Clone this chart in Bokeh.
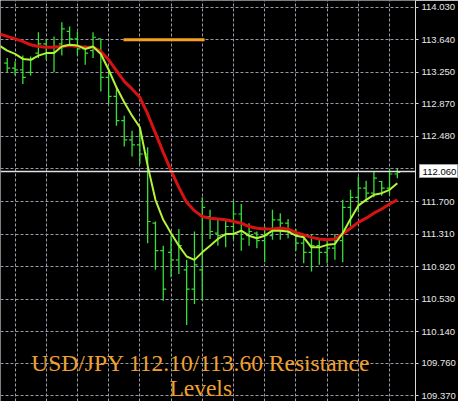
from bokeh.plotting import figure
from bokeh.models import (Range1d, LinearAxis, FixedTicker, PrintfTickFormatter,
                          Label, Span, Grid, GridBox)
from bokeh.core.properties import value
from bokeh.embed import file_html
from bokeh.resources import INLINE

# ---------------- data ----------------
bar_index = list(range(51))

opens = [113.36, 113.30, 113.28, 113.25, 113.48, 113.59, 113.48, 113.59, 113.74, 113.65,
         113.53, 113.51, 113.65, 113.19, 112.96, 112.67, 112.44, 112.38, 112.27, 111.44,
         111.11, 111.09, 111.00, 110.88, 110.65, 110.88, 111.52, 111.32, 111.29, 111.40,
         111.55, 111.29, 111.32, 111.23, 111.29, 111.48, 111.44, 111.34, 111.20, 111.09,
         111.17, 111.09, 111.14, 111.23, 111.63, 111.75, 111.86, 111.80, 111.94, 111.86,
         112.03]
highs = [113.42, 113.38, 113.45, 113.44, 113.73, 113.65, 113.68, 113.85, 113.80, 113.74,
         113.57, 113.73, 113.65, 113.27, 113.07, 112.73, 112.55, 112.58, 112.35, 111.46,
         111.17, 111.29, 111.37, 111.00, 111.34, 111.75, 111.60, 111.48, 111.49, 111.70,
         111.67, 111.44, 111.34, 111.40, 111.60, 111.56, 111.49, 111.37, 111.31, 111.31,
         111.25, 111.25, 111.31, 111.72, 111.84, 112.00, 111.95, 112.06, 111.95, 112.09,
         112.09]
lows = [113.25, 113.21, 113.11, 113.21, 113.42, 113.40, 113.25, 113.45, 113.57, 113.45,
        113.34, 113.42, 113.02, 112.87, 112.61, 112.36, 112.24, 112.15, 111.20, 110.88,
        110.51, 110.79, 110.83, 110.22, 110.47, 110.51, 111.25, 111.17, 111.15, 111.25,
        111.11, 111.17, 111.14, 110.97, 111.24, 111.24, 111.26, 111.11, 110.96, 110.86,
        110.94, 110.96, 111.00, 110.97, 111.40, 111.57, 111.69, 111.75, 111.77, 111.78,
        111.98]
closes = [113.30, 113.28, 113.19, 113.40, 113.59, 113.48, 113.56, 113.77, 113.65, 113.53,
          113.48, 113.67, 113.19, 112.96, 112.67, 112.44, 112.38, 112.27, 111.46, 111.11,
          110.65, 111.00, 111.17, 110.65, 110.94, 111.63, 111.34, 111.29, 111.40, 111.55,
          111.25, 111.34, 111.23, 111.29, 111.48, 111.44, 111.34, 111.20, 111.09, 111.17,
          111.09, 111.14, 111.23, 111.63, 111.75, 111.86, 111.80, 111.98, 111.86, 112.03,
          112.05]

ma_index = list(range(-1, 51))
ma_fast = [113.57, 113.51, 113.47, 113.41, 113.40, 113.45, 113.48, 113.48, 113.56, 113.58,
           113.57, 113.53, 113.56, 113.47, 113.28, 113.07, 112.89, 112.73, 112.59, 112.13,
           111.72, 111.48, 111.32, 111.17, 111.04, 111.00, 111.09, 111.17, 111.25, 111.31,
           111.31, 111.35, 111.29, 111.26, 111.29, 111.35, 111.35, 111.34, 111.29, 111.27,
           111.15, 111.15, 111.18, 111.19, 111.32, 111.49, 111.65, 111.72, 111.78, 111.80,
           111.84, 111.92]
ma_slow = [113.71, 113.68, 113.65, 113.62, 113.58, 113.56, 113.55, 113.55, 113.56, 113.57,
           113.56, 113.55, 113.55, 113.50, 113.40, 113.27, 113.14, 113.05, 112.95, 112.75,
           112.52, 112.29, 112.07, 111.87, 111.69, 111.59, 111.52, 111.50, 111.49, 111.48,
           111.46, 111.44, 111.40, 111.38, 111.37, 111.37, 111.38, 111.37, 111.33, 111.30,
           111.27, 111.25, 111.24, 111.25, 111.31, 111.38, 111.45, 111.50, 111.56, 111.61,
           111.67, 111.72]

resistance_level = [113.64]
resistance_start = [14.9]
resistance_end = [25.3]

bid_price = 112.06

price_ticks = [109.37, 109.76, 110.14, 110.53, 110.92, 111.31, 111.70, 112.09,
               112.48, 112.87, 113.25, 113.64, 114.03]
axis_ticks = [t for t in price_ticks if t != 112.09]
grid_bar_ticks = list(range(1, 51, 4))

title_line1 = "USD/JPY 112.10/113.60 Resistance"
title_line2 = "Levels"

# ---------------- main chart ----------------
p = figure(width=458, height=401, output_backend="svg", toolbar_location=None,
           x_range=Range1d(-0.86, 52.33), y_range=Range1d(109.301, 114.111),
           x_axis_location=None, y_axis_location=None,
           background_fill_color="black", border_fill_color="black",
           outline_line_color=None, min_border=0)

p.center = [c for c in p.center if not isinstance(c, Grid)]

grid_style = dict(grid_line_color="#9a9aa8", grid_line_dash="3 2", grid_line_width=1)
p.add_layout(Grid(dimension=0, ticker=FixedTicker(ticks=grid_bar_ticks), **grid_style), "center")
p.add_layout(Grid(dimension=1, ticker=FixedTicker(ticks=price_ticks), **grid_style), "center")

yaxis = LinearAxis(ticker=FixedTicker(ticks=axis_ticks),
                   formatter=PrintfTickFormatter(format="%.3f"),
                   axis_line_color="#d8d8d8", axis_line_width=1,
                   major_tick_line_color="#d8d8d8", major_tick_out=3, major_tick_in=0,
                   minor_tick_out=0, minor_tick_in=0,
                   major_label_text_color="#e8e8e8",
                   major_label_text_font="Liberation Sans",
                   major_label_text_font_size="9.5px",
                   major_label_standoff=3)
p.add_layout(yaxis, "right")

# bid price line
p.add_layout(Span(location=bid_price, dimension="width", line_color="#e0e0e0", line_width=1.5))

# OHLC bars
bar_color = "#36e036"
tick = 0.38
p.segment(x0=bar_index, y0=lows, x1=bar_index, y1=highs, line_color=bar_color, line_width=1.3)
p.segment(x0=[i - tick for i in bar_index], y0=opens, x1=bar_index, y1=opens,
          line_color=bar_color, line_width=1.2)
p.segment(x0=bar_index, y0=closes, x1=[i + tick for i in bar_index], y1=closes,
          line_color=bar_color, line_width=1.2)

# moving averages
p.line(ma_index, ma_slow, line_color="#d81212", line_width=3)
p.line(ma_index, ma_fast, line_color="#b2f23a", line_width=2)

# resistance segment
p.segment(x0=resistance_start, y0=resistance_level, x1=resistance_end, y1=resistance_level,
          line_color="#f5a020", line_width=3)

# caption
title_style = dict(text_align="center", text_baseline="alphabetic",
                   text_font="Liberation Serif", text_font_size="23.5px",
                   text_color="#f0a030")
p.add_layout(Label(x=24.8, y=109.763, text=title_line1, **title_style))
p.add_layout(Label(x=24.8, y=109.463, text=title_line2, **title_style))

# ---------------- bid price box, laid over the axis area ----------------
pb = figure(frame_width=39, frame_height=14, output_backend="svg", toolbar_location=None,
            x_range=Range1d(0, 1), y_range=Range1d(0, 1), title=None,
            x_axis_location=None, y_axis_location=None,
            background_fill_color="white", border_fill_color="white",
            outline_line_color="#a0a0a0", min_border=0,
            margin=(164, 0, 0, 419))
pb.center = [c for c in pb.center if not isinstance(c, Grid)]
pb.text(x=[0.08], y=[0.5], text=[f"{bid_price:.3f}"], text_baseline="middle",
        text_align="left", text_font=value("Liberation Sans"),
        text_font_size="9.5px", text_color="black")

layout = GridBox(children=[(p, 0, 0), (pb, 0, 0)])

open("out.html", "w").write(file_html(layout, INLINE))
